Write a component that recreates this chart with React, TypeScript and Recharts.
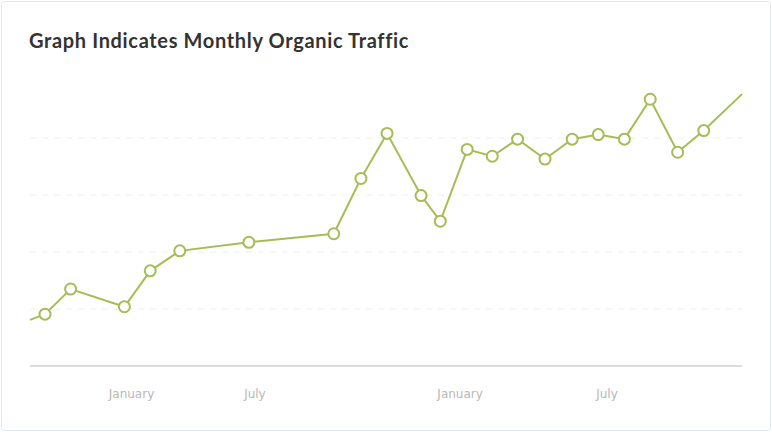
import { LineChart, Line, XAxis, YAxis, CartesianGrid } from "recharts";

// x position in weeks from the left edge of the plot, y = organic visits
const weeks = [0, 0.57, 1.54, 3.58, 4.56, 5.68, 8.3, 11.52, 12.55, 13.54, 14.83, 15.56, 16.58, 17.53, 18.49, 19.53, 20.56, 21.55, 22.54, 23.52, 24.56, 25.55, 27];
const traffic = [81, 91, 135, 104, 167, 202, 217, 232, 329, 408, 299, 254, 380, 368, 398, 363, 398, 406, 398, 468, 375, 413, 477];

const tickWeeks = [3.85, 8.53, 16.31, 21.88];
const tickLabels = ["January", "July", "January", "July"];

const gridValues = [100, 200, 300, 400];

const LINE_COLOR = "#a6bd55";

const data = weeks.map((w, i) => ({ week: w, visits: traffic[i] }));

// endpoints are just where the line runs off the plot, no marker there
const renderDot = (props: any) => {
    const { cx, cy, index } = props;
    if (index === 0 || index === data.length - 1) return <g key={`d-${index}`} />;
    return (
        <circle
            key={`d-${index}`}
            cx={cx}
            cy={cy}
            r={5.5}
            fill="#ffffff"
            stroke={LINE_COLOR}
            strokeWidth={2}
        />
    );
};

export default function App() {
    return (
        <div style={{ position: "absolute", left: 0, top: 0, width: 772, height: 432, background: "#ffffff" }}>
            <div
                style={{
                    position: "absolute",
                    left: 1,
                    top: 1,
                    width: 768,
                    height: 428,
                    border: "1px solid #e4eaef",
                    borderRadius: 3,
                }}
            />
            <div
                style={{
                    position: "absolute",
                    left: 29,
                    top: 28,
                    fontFamily: "Lato, sans-serif",
                    fontWeight: 700,
                    fontSize: 20,
                    letterSpacing: 0.65,
                    color: "#333333",
                    whiteSpace: "nowrap",
                }}
            >
                Graph Indicates Monthly Organic Traffic
            </div>
            <div style={{ position: "absolute", left: 0, top: 0 }}>
                <LineChart
                    width={772}
                    height={432}
                    data={data}
                    margin={{ top: 81, right: 30, left: 30, bottom: 36 }}
                >
                    <CartesianGrid
                        vertical={false}
                        horizontalValues={gridValues}
                        stroke="#eeeeee"
                        strokeDasharray="6 6"
                    />
                    <XAxis
                        dataKey="week"
                        type="number"
                        domain={[0, 27]}
                        ticks={tickWeeks}
                        tickFormatter={(v: number) => tickLabels[tickWeeks.indexOf(v)] ?? ""}
                        tickLine={false}
                        tickSize={0}
                        tickMargin={23}
                        height={30}
                        axisLine={{ stroke: "#dcdcdc", strokeWidth: 2 }}
                        tick={{ fill: "#b8b8b8", fontSize: 12, fontFamily: "'DejaVu Sans', sans-serif" }}
                        interval={0}
                    />
                    <YAxis hide domain={[0, 500]} ticks={gridValues} />
                    <Line
                        type="linear"
                        dataKey="visits"
                        stroke={LINE_COLOR}
                        strokeWidth={2}
                        dot={renderDot}
                        activeDot={false}
                        isAnimationActive={false}
                    />
                </LineChart>
            </div>
        </div>
    );
}
